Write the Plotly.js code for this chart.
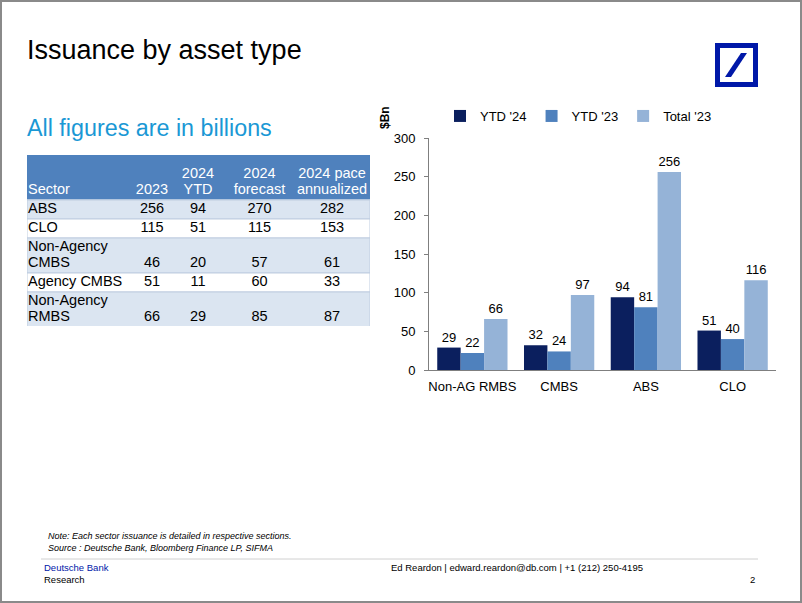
<!DOCTYPE html>
<html>
<head>
<meta charset="utf-8">
<script src="https://cdn.plot.ly/plotly-3.0.1.min.js"></script>
<style>
html,body{margin:0;padding:0;background:#fff;}
#chart{width:802px;height:603px;}
</style>
</head>
<body>
<div id="chart"></div>
<script>
// ---- Bar chart data ----
const categories = ["Non-AG RMBS", "CMBS", "ABS", "CLO"];
const seriesNames = ["YTD '24", "YTD '23", "Total '23"];
const ytd24 = [29, 32, 94, 51];
const ytd23 = [22, 24, 81, 40];
const total23 = [66, 97, 256, 116];
const yTicks = [0, 50, 100, 150, 200, 250, 300];

// ---- Table data ----
const headerLine1 = ["", "", "2024", "2024", "2024 pace"];
const headerLine2 = ["Sector", "2023", "YTD", "forecast", "annualized"];
const sectorLabelLines = [["ABS"], ["CLO"], ["Non-Agency", "CMBS"], ["Agency CMBS"], ["Non-Agency", "RMBS"]];
const col2023 = [256, 115, 46, 51, 66];
const col2024YTD = [94, 51, 20, 11, 29];
const col2024Forecast = [270, 115, 57, 60, 85];
const col2024Pace = [282, 153, 61, 33, 87];

const W = 802, H = 603;
const px = x => x / W;
const py = y => 1 - y / H;

const FONT = "Liberation Sans, Arial, sans-serif";
const colors = ["#0b1f5e", "#4f81bd", "#95b3d7"];

// ---- Bar chart traces ----
const seriesValues = [ytd24, ytd23, total23];
const barTraces = seriesValues.map((vals, i) => ({
  type: "bar",
  name: seriesNames[i],
  x: categories,
  y: vals,
  xaxis: "x", yaxis: "y",
  text: vals.map(String),
  textposition: "outside",
  textfont: {family: FONT, size: 13, color: "#000"},
  cliponaxis: false,
  marker: {color: colors[i], line: {width: 0}},
  hoverinfo: "skip"
}));

// ---- Table built on its own hidden axes (units = pixels inside the table box) ----
const TABLE_W = 343, HEADER_H = 44, LINE_H = 16, ROW_PAD = 3;
const colAnchors = [1, 125, 171, 232.5, 305];
const numCols = [col2023, col2024YTD, col2024Forecast, col2024Pace];

const bgY = [HEADER_H / 2], bgH = [HEADER_H], bgC = ["#4f81bd"], bgL = ["#4f81bd"];
const txtX = [], txtY = [], txtS = [], txtPos = [], txtCol = [];
headerLine1.forEach((h, ci) => {
  [h, headerLine2[ci]].forEach((t, li) => {
    if (!t) return;
    txtX.push(colAnchors[ci]); txtY.push(19 + LINE_H * li); txtS.push(t);
    txtPos.push(ci === 0 ? "middle right" : "middle center"); txtCol.push("#ffffff");
  });
});
let rowTop = HEADER_H + 1;
sectorLabelLines.forEach((lines, si) => {
  const h = ROW_PAD + LINE_H * lines.length;
  bgY.push(rowTop + h / 2); bgH.push(h);
  bgC.push(si % 2 === 0 ? "#dbe5f1" : "#ffffff"); bgL.push("#bfcde0");
  lines.forEach((ln, li) => {
    txtX.push(colAnchors[0]); txtY.push(rowTop + 9.5 + LINE_H * li); txtS.push(ln);
    txtPos.push("middle right"); txtCol.push("#000000");
  });
  const lastY = rowTop + 9.5 + LINE_H * (lines.length - 1);
  numCols.forEach((col, ci) => {
    txtX.push(colAnchors[ci + 1]); txtY.push(lastY); txtS.push(String(col[si]));
    txtPos.push("middle center"); txtCol.push("#000000");
  });
  rowTop += h;
});

const tableBg = {
  type: "bar", orientation: "h",
  xaxis: "x2", yaxis: "y2",
  y: bgY, x: bgY.map(() => TABLE_W), base: 0, width: bgH,
  marker: {color: bgC, line: {color: bgL, width: 1}},
  showlegend: false, hoverinfo: "skip"
};
const tableText = {
  type: "scatter", mode: "text",
  xaxis: "x2", yaxis: "y2",
  x: txtX, y: txtY, text: txtS,
  textposition: txtPos,
  textfont: {family: FONT, size: 14.5, color: txtCol},
  cliponaxis: false,
  marker: {size: 1},
  showlegend: false, hoverinfo: "skip"
};

const layout = {
  width: W, height: H,
  margin: {l: 0, r: 0, t: 0, b: 0},
  paper_bgcolor: "#ffffff",
  plot_bgcolor: "rgba(0,0,0,0)",
  showlegend: true,
  barmode: "group",
  bargap: 0.19,
  bargroupgap: 0,
  font: {family: FONT, size: 13, color: "#000"},
  legend: {
    orientation: "h",
    x: px(440), y: py(101), xanchor: "left", yanchor: "top",
    font: {family: FONT, size: 13, color: "#000"},
    itemwidth: 30,
    tracegroupgap: 0,
    bgcolor: "rgba(0,0,0,0)"
  },
  xaxis: {
    domain: [px(429), px(776)],
    anchor: "y",
    type: "category",
    showline: true, linecolor: "#7f7f7f", linewidth: 1,
    ticks: "", showgrid: false, zeroline: false,
    tickfont: {family: FONT, size: 13, color: "#000"},
    ticklabelstandoff: 4
  },
  yaxis: {
    domain: [py(370), py(138)],
    anchor: "x",
    range: [0, 300],
    tickvals: yTicks,
    ticktext: yTicks.map(String),
    showline: true, linecolor: "#7f7f7f", linewidth: 1,
    ticks: "outside", ticklen: 4, tickcolor: "#7f7f7f",
    showgrid: false, zeroline: false,
    tickfont: {family: FONT, size: 13, color: "#000"},
    ticklabelstandoff: 6
  },
  xaxis2: {
    domain: [px(27), px(370)], anchor: "y2",
    range: [0, TABLE_W], visible: false, fixedrange: true
  },
  yaxis2: {
    domain: [py(326), py(155)], anchor: "x2",
    range: [171, 0], visible: false, fixedrange: true
  },
  shapes: [
    {type: "rect", xref: "paper", yref: "paper", x0: px(1), x1: px(801), y0: py(602), y1: py(1),
     line: {color: "#8a8a8a", width: 2}},
    {type: "rect", xref: "paper", yref: "paper", x0: px(717.5), x1: px(755.5), y0: py(84.5), y1: py(45.5),
     line: {color: "#0018a8", width: 5}},
    {type: "path", xref: "paper", yref: "paper",
     path: `M ${px(725)} ${py(77)} L ${px(731)} ${py(77)} L ${px(747)} ${py(53)} L ${px(741)} ${py(53)} Z`,
     fillcolor: "#0018a8", line: {width: 0}},
    {type: "line", xref: "paper", yref: "paper", x0: px(41), x1: px(758), y0: py(559), y1: py(559),
     line: {color: "#d0d0d0", width: 1}}
  ],
  annotations: [
    {text: "Issuance by asset type", xref: "paper", yref: "paper", x: px(25), y: py(50),
     xanchor: "left", yanchor: "middle", showarrow: false,
     font: {family: FONT, size: 27, color: "#000"}},
    {text: "All figures are in billions", xref: "paper", yref: "paper", x: px(25), y: py(128),
     xanchor: "left", yanchor: "middle", showarrow: false,
     font: {family: FONT, size: 23.3, color: "#1a98d5"}},
    {text: "<b>$Bn</b>", xref: "paper", yref: "paper", x: px(385), y: py(118),
     xanchor: "center", yanchor: "middle", textangle: -90, showarrow: false,
     font: {family: FONT, size: 12, color: "#000"}},
    {text: "<i>Note: Each sector issuance is detailed in respective sections.</i>", xref: "paper", yref: "paper",
     x: px(46), y: py(536), xanchor: "left", yanchor: "middle", showarrow: false,
     font: {family: FONT, size: 9, color: "#000"}},
    {text: "<i>Source : Deutsche Bank, Bloomberg Finance LP, SIFMA</i>", xref: "paper", yref: "paper",
     x: px(46), y: py(548), xanchor: "left", yanchor: "middle", showarrow: false,
     font: {family: FONT, size: 9, color: "#000"}},
    {text: "Deutsche Bank", xref: "paper", yref: "paper", x: px(42), y: py(567),
     xanchor: "left", yanchor: "middle", showarrow: false,
     font: {family: FONT, size: 9.5, color: "#0018a8"}},
    {text: "Research", xref: "paper", yref: "paper", x: px(42), y: py(579),
     xanchor: "left", yanchor: "middle", showarrow: false,
     font: {family: FONT, size: 9.5, color: "#000"}},
    {text: "Ed Reardon | edward.reardon@db.com | +1 (212) 250-4195", xref: "paper", yref: "paper",
     x: px(389), y: py(567), xanchor: "left", yanchor: "middle", showarrow: false,
     font: {family: FONT, size: 9.5, color: "#000"}},
    {text: "2", xref: "paper", yref: "paper", x: px(757), y: py(579),
     xanchor: "right", yanchor: "middle", showarrow: false,
     font: {family: FONT, size: 9.5, color: "#000"}}
  ]
};

Plotly.newPlot("chart", [tableBg, tableText].concat(barTraces), layout, {staticPlot: true, displayModeBar: false});
</script>
</body>
</html>
